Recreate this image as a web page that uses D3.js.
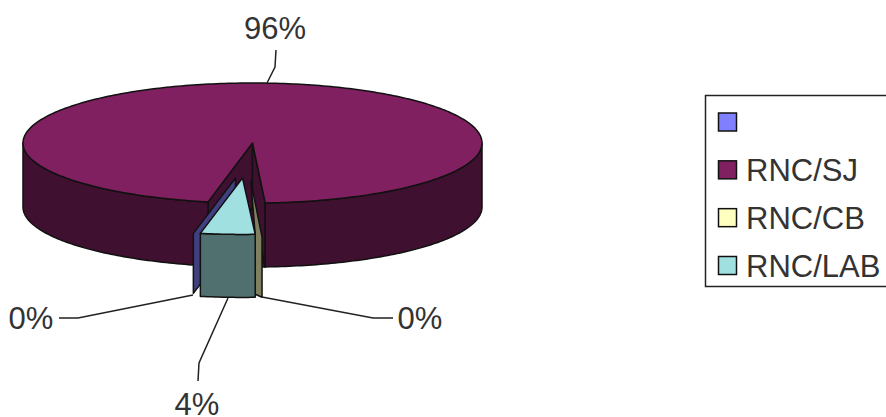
<!DOCTYPE html>
<html>
<head>
<meta charset="utf-8">
<script src="https://cdn.jsdelivr.net/npm/d3@7"></script>
<style>
html, body { margin: 0; padding: 0; background: #fff; overflow: hidden; }
text { font-family: "Liberation Sans", Arial, sans-serif; font-size: 31px; fill: #333; }
</style>
</head>
<body>
<svg></svg>
<script>
var categories = ["", "RNC/SJ", "RNC/CB", "RNC/LAB"];
var shares = [0.1, 95.6, 0.4, 3.9];
var shareLabels = ["0%", "96%", "0%", "4%"];
var topColors = ["#8080ff", "#802060", "#ffffc0", "#a0e0e0"];
var sideColors = ["#404080", "#401030", "#808060", "#507070"];

var width = 886, height = 417;
var svg = d3.select("svg").attr("width", width).attr("height", height);

var cx = 252.5, cy = 143, rx = 229.5, ry = 60, depth = 64;
var outline = "#111";

// how far each slice is pulled out of the pie, and how much it shrinks
var explode = [
    {dx: -17, dy: 35, sx: 0.98, sy: 0.94, depth: 60},
    {dx: 0, dy: 0, sx: 1, sy: 1, depth: depth},
    {dx: -1.7, dy: 38, sx: 0.6, sy: 0.94, depth: 60},
    {dx: -10, dy: 35, sx: 0.98, sy: 0.94, depth: 63}
];

var deg = Math.PI / 180;
var start = 190.8 * deg;
var arcs = d3.pie().sort(null).startAngle(start).endAngle(start + 2 * Math.PI)(shares);

var line = d3.line();
function rim(i, a, down) {
    var e = explode[i];
    return [cx + e.dx + Math.sin(a) * rx * e.sx,
            cy + e.dy - Math.cos(a) * ry * e.sy + (down || 0)];
}
function apex(i, down) {
    return [cx + explode[i].dx, cy + explode[i].dy + (down || 0)];
}
function rimPts(i, a0, a1, down) {
    var n = Math.max(2, Math.ceil(Math.abs(a1 - a0) / deg));
    return d3.range(n + 1).map(function (k) { return rim(i, a0 + (a1 - a0) * k / n, down); });
}
function shape(pts, fill) {
    svg.append("path")
        .attr("d", line(pts) + "Z")
        .attr("fill", fill)
        .attr("stroke", outline)
        .attr("stroke-width", 1.5)
        .attr("stroke-linejoin", "round");
}
function outerSide(i, a0, a1) {
    var d = explode[i].depth;
    shape(rimPts(i, a0, a1).concat(rimPts(i, a1, a0, d)), sideColors[i]);
}
function cutWall(i, a) {
    var d = explode[i].depth;
    shape([apex(i), rim(i, a), rim(i, a, d), apex(i, d)], sideColors[i]);
}

// big slice: inside of the notch, round side, then the top
// the notch closes a little on its right side in the picture
var sj = arcs[1];
var sjEnd = sj.endAngle + 1.5 * deg;
shape([apex(1, depth), rim(1, sj.startAngle, depth), rim(1, sjEnd, depth)], sideColors[1]);
cutWall(1, sj.startAngle);
cutWall(1, sjEnd);
outerSide(1, sj.startAngle, 1.5 * Math.PI);
outerSide(1, 0.5 * Math.PI, sjEnd - 2 * Math.PI);
shape([apex(1)].concat(rimPts(1, sj.startAngle, sjEnd)), topColors[1]);

// thin blank slice, only its cut face shows
cutWall(0, arcs[0].startAngle);

// thin CB slice, it runs up against the LAB slice
var cb = arcs[2], lab = arcs[3];
shape([apex(2), rim(2, cb.startAngle), rim(2, cb.startAngle, explode[2].depth),
       rim(3, lab.startAngle, explode[2].depth), rim(3, lab.startAngle)], sideColors[2]);

// LAB slice
outerSide(3, lab.startAngle, lab.endAngle);
shape([apex(3)].concat(rimPts(3, lab.startAngle, lab.endAngle)), topColors[3]);

// leader lines and percent labels
var leaders = [
    [[193, 295], [78, 318], [59, 318]],
    [[267, 83], [275, 67], [276, 50]],
    [[262, 297], [373, 318], [393, 318]],
    [[228, 298], [199, 363], [198, 381]]
];
var labelPos = [[31, 329], [275, 39], [420, 329], [197, 415]];
leaders.forEach(function (pts, i) {
    svg.append("path")
        .attr("d", line(pts))
        .attr("fill", "none")
        .attr("stroke", "#222")
        .attr("stroke-width", 1.5);
    svg.append("text")
        .attr("x", labelPos[i][0])
        .attr("y", labelPos[i][1])
        .attr("text-anchor", "middle")
        .text(shareLabels[i]);
});

// legend, its box runs off the right of the picture
svg.append("rect")
    .attr("x", 705.5).attr("y", 95.5)
    .attr("width", 200).attr("height", 191)
    .attr("fill", "#fff")
    .attr("stroke", "#222")
    .attr("stroke-width", 1.5);
var legendY = d3.scalePoint().domain(d3.range(categories.length)).range([122, 265.5]);
var legend = svg.selectAll(".legend")
    .data(categories).enter()
    .append("g")
    .attr("class", "legend")
    .attr("transform", function (d, i) { return "translate(0," + legendY(i) + ")"; });
legend.append("rect")
    .attr("x", 718.5).attr("y", -9)
    .attr("width", 18).attr("height", 18)
    .attr("fill", function (d, i) { return topColors[i]; })
    .attr("stroke", "#111")
    .attr("stroke-width", 1.5);
legend.append("text")
    .attr("x", 746)
    .attr("y", 11)
    .text(function (d) { return d; });
</script>
</body>
</html>
